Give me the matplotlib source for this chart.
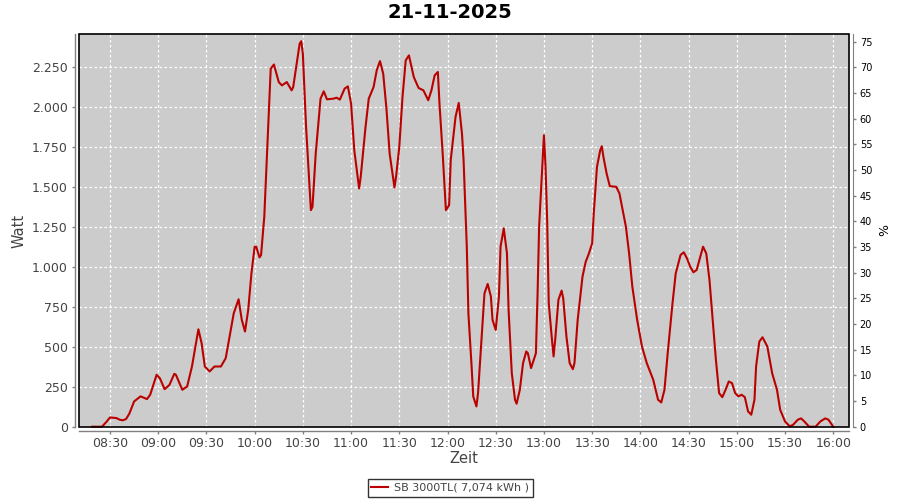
import matplotlib
matplotlib.use("Agg")
import matplotlib.pyplot as plt
import matplotlib.patches as mpatches

# ---------------------------------------------------------------------------
# data
# ---------------------------------------------------------------------------
times = [
    "08:19", "08:25", "08:28", "08:30", "08:34", "08:36", "08:38", "08:40",
    "08:42", "08:45", "08:49", "08:53", "08:55", "08:59", "09:01", "09:04",
    "09:07", "09:10", "09:11", "09:15", "09:18", "09:21", "09:25", "09:27",
    "09:29", "09:32", "09:35", "09:39", "09:42", "09:47", "09:50", "09:52",
    "09:54", "09:56", "09:58", "10:00", "10:01", "10:03", "10:04", "10:06",
    "10:08", "10:10", "10:12", "10:15", "10:17", "10:20", "10:23", "10:24",
    "10:28", "10:29", "10:30", "10:32", "10:35", "10:36", "10:38", "10:41",
    "10:43", "10:45", "10:49", "10:51", "10:53", "10:56", "10:58", "11:00",
    "11:02", "11:05", "11:06", "11:09", "11:11", "11:14", "11:16", "11:18",
    "11:20", "11:22", "11:24", "11:27", "11:28", "11:30", "11:32", "11:34",
    "11:36", "11:39", "11:42", "11:45", "11:48", "11:50", "11:52", "11:54",
    "11:55", "11:57", "11:59", "12:01", "12:02", "12:05", "12:07", "12:09",
    "12:10", "12:12", "12:13", "12:15", "12:16", "12:18", "12:19", "12:21",
    "12:23", "12:25", "12:27", "12:28", "12:30", "12:32", "12:33", "12:35",
    "12:37", "12:38", "12:40", "12:42", "12:43", "12:45", "12:47", "12:49",
    "12:50", "12:52", "12:55", "12:56", "12:57", "12:59", "13:00", "13:01",
    "13:02", "13:03", "13:05", "13:06", "13:07", "13:09", "13:11", "13:12",
    "13:14", "13:16", "13:18", "13:19", "13:21", "13:24", "13:26", "13:28",
    "13:30", "13:31", "13:33", "13:35", "13:36", "13:37", "13:39", "13:41",
    "13:45", "13:47", "13:49", "13:51", "13:53", "13:55", "13:58", "14:01",
    "14:04", "14:08", "14:11", "14:13", "14:15", "14:17", "14:20", "14:22",
    "14:25", "14:27", "14:29", "14:31", "14:33", "14:35", "14:37", "14:39",
    "14:41", "14:43", "14:45", "14:47", "14:49", "14:51", "14:53", "14:55",
    "14:57", "14:59", "15:01", "15:03", "15:05", "15:07", "15:09", "15:11",
    "15:12", "15:14", "15:16", "15:19", "15:22", "15:25", "15:27", "15:30",
    "15:33", "15:35", "15:38", "15:40", "15:42", "15:45", "15:49", "15:52",
    "15:55", "15:57", "16:00",
]
watt = [
    0, 0, 33, 58, 54, 44, 40, 48,
    81, 158, 190, 173, 200, 325, 304, 235,
    262, 331, 325, 231, 252, 377, 610, 523,
    377, 346, 377, 377, 429, 710, 798, 669,
    596, 731, 960, 1127, 1127, 1060, 1075, 1315,
    1773, 2242, 2268, 2158, 2137, 2158, 2106, 2127,
    2398, 2414, 2335, 1877, 1356, 1377, 1710, 2054,
    2100, 2050, 2054, 2060, 2048, 2117, 2131, 2023,
    1731, 1492, 1565, 1877, 2054, 2127, 2233, 2289,
    2210, 1992, 1710, 1498, 1565, 1752, 2065, 2294,
    2325, 2190, 2121, 2106, 2044, 2106, 2200, 2221,
    2023, 1710, 1356, 1387, 1669, 1940, 2027, 1835,
    1669, 1127, 710, 377, 190, 127, 210, 523,
    835, 894, 815, 669, 606, 815, 1127, 1242,
    1085, 731, 335, 169, 144, 231, 398, 471,
    460, 367, 460, 815, 1252, 1627, 1825, 1627,
    1294, 773, 544, 440, 544, 794, 852, 804,
    565, 398, 360, 398, 669, 940, 1033, 1085,
    1148, 1335, 1627, 1731, 1756, 1690, 1585, 1506,
    1502, 1460, 1356, 1252, 1085, 877, 669, 502,
    398, 294, 169, 152, 231, 460, 773, 960,
    1075, 1092, 1054, 1002, 967, 981, 1054, 1127,
    1085, 919, 669, 419, 210, 185, 231, 283,
    273, 210, 190, 200, 185, 96, 75, 169,
    377, 533, 560, 502, 335, 231, 106, 33,
    2, 12, 44, 52, 33, 0, 0, 33,
    52, 44, 0,
]

title = "21-11-2025"
series_label = "SB 3000TL( 7,074 kWh )"
watt_ticks = [0, 250, 500, 750, 1000, 1250, 1500, 1750, 2000, 2250]
pct_ticks = list(range(0, 80, 5))
time_ticks = ["08:30", "09:00", "09:30", "10:00", "10:30", "11:00", "11:30",
              "12:00", "12:30", "13:00", "13:30", "14:00", "14:30", "15:00",
              "15:30", "16:00"]


def to_min(s):
    h, m = s.split(":")
    return int(h) * 60 + int(m)


def fmt_watt(v):
    return f"{v:,}".replace(",", ".")


# ---------------------------------------------------------------------------
# plot
# ---------------------------------------------------------------------------
GREY = "#808080"
TXT = "#444444"

fig = plt.figure(figsize=(9, 5), dpi=100)
ax = fig.add_axes([79.3 / 900, 73.3 / 500, 770 / 900, 392.4 / 500])
ax.set_facecolor("#CCCCCC")

x = [to_min(t) for t in times]
line, = ax.plot(x, watt, color="#BB0000", lw=1.5, zorder=3, clip_on=False)

ax.set_xlim(490.9, 970)
ax.set_ylim(0, 2457)

ax.set_xticks([to_min(t) for t in time_ticks])
ax.set_xticklabels(time_ticks)
ax.set_yticks(watt_ticks)
ax.set_yticklabels([fmt_watt(v) for v in watt_ticks])

ax.grid(True, color="white", lw=0.9, linestyle=(0, (2, 2)))
ax.set_axisbelow(True)

for side in ("top", "right"):
    ax.spines[side].set_visible(False)
for side in ("left", "bottom"):
    ax.spines[side].set_color(GREY)
    ax.spines[side].set_linewidth(1.0)
ax.spines["left"].set_position(("outward", 2.8))
ax.spines["bottom"].set_position(("outward", 2.9))

ax.tick_params(axis="both", colors=GREY, labelcolor=TXT, labelsize=9,
               length=2, width=1)
ax.tick_params(axis="y", pad=3.5)
ax.tick_params(axis="x", pad=2.5)

ax.set_ylabel("Watt", color=TXT, fontsize=10.5)
ax.yaxis.set_label_coords(-0.069, 0.5)
ax.set_xlabel("Zeit", color=TXT, fontsize=10.5)
ax.xaxis.set_label_coords(0.5, -0.062)

# right-hand % axis
ax2 = ax.twinx()
ax2.set_ylim(0, 76.44)
ax2.set_yticks(pct_ticks)
for side in ("top", "left", "bottom"):
    ax2.spines[side].set_visible(False)
ax2.spines["right"].set_color(GREY)
ax2.spines["right"].set_position(("outward", 2.5))
ax2.tick_params(axis="y", colors=GREY, labelcolor="black", labelsize=7,
                length=2, width=1, pad=3)
ax2.set_ylabel("%", color="black", fontsize=9)
ax2.yaxis.set_label_coords(1.037, 0.5)

# black frame round the plot area
ax2.add_patch(mpatches.Rectangle((0, 0), 1, 1, transform=ax.transAxes,
                                 fill=False, edgecolor="black", lw=1.2,
                                 clip_on=False, zorder=5))

fig.text(0.5, 1 - 12 / 500, title, ha="center", va="center",
         fontsize=14, fontweight="bold", color="black")

leg = fig.legend([line], [series_label], loc="center",
                 bbox_to_anchor=(0.5, 1 - 488 / 500), fontsize=8,
                 frameon=True, fancybox=False, handlelength=1.5,
                 handletextpad=0.5, borderpad=0.35, borderaxespad=0)
leg.get_frame().set_edgecolor("black")
leg.get_frame().set_linewidth(1.0)
for t in leg.get_texts():
    t.set_color(TXT)

fig.savefig("out.png", dpi=100, facecolor="white")
